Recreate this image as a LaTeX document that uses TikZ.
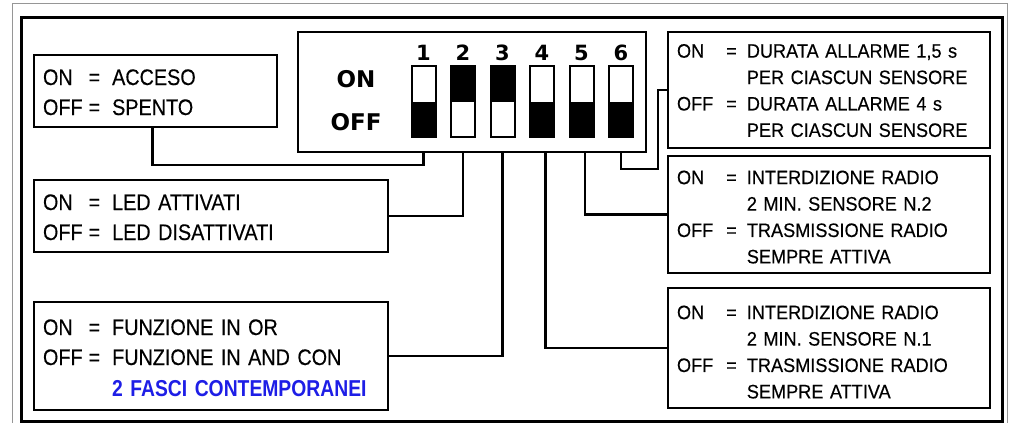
\documentclass[tikz,border=0pt]{standalone}
\usepackage{fontspec}
\usepackage{array}
\setmainfont{Liberation Sans}
\newfontfamily\leftfont{Liberation Sans}[FakeStretch=0.88,FakeBold=0.3]
\newfontfamily\rightfont{Liberation Sans}[FakeStretch=0.93,FakeBold=0.3]
\newfontfamily\dipfont{DejaVu Sans}
\newfontfamily\fascifont{Liberation Sans}[FakeStretch=0.84]
\usetikzlibrary{positioning,calc}
\definecolor{fasciblue}{RGB}{30,30,230}
\definecolor{framegray}{RGB}{150,150,150}
\newcolumntype{L}{@{}l@{\hspace{6pt}}c@{\hspace{12pt}}l@{}}
\newcolumntype{R}{@{}l@{\hspace{13pt}}c@{\hspace{10pt}}l@{}}
\newcommand{\lowered}[2]{\noindent\raisebox{-#1}[\height][\depth]{#2}}

\begin{document}
\begin{tikzpicture}[x=1pt,y=-1pt,
  infobox/.style={draw,line width=2.5pt,outer sep=0pt,anchor=north west,inner xsep=9pt,inner ysep=0pt,align=left},
  leftbox/.style={infobox,font=\leftfont\fontsize{22.5}{30}\selectfont},
  rightbox/.style={infobox,font=\rightfont\fontsize{19.5}{26.4}\selectfont,text width=304},
  switchbox/.style={draw,line width=2pt,minimum width=24,minimum height=71,inner sep=0pt,outer sep=0pt},
  diplbl/.style={font=\dipfont\bfseries\fontsize{23}{23}\selectfont,anchor=base,inner sep=0pt},
  digitlbl/.style={font=\dipfont\bfseries\fontsize{21}{21}\selectfont,anchor=base,inner sep=0pt},
  wire/.style={line width=2.2pt}]
\useasboundingbox (0,0) rectangle (1015,423);
% frames
\draw[framegray,line width=1pt] (12,423) |- (1007,3) -- (1007,423);
\draw[line width=3pt] (21,17) rectangle (1002,421);

% left boxes
\node[leftbox,text width=225,minimum height=72] (acceso) at (34,55) {\lowered{3pt}{\begin{tabular}{L}
ON & = & ACCESO\\
OFF & = & SPENTO
\end{tabular}}};
\node[leftbox,text width=336,minimum height=72] (led) at (34,180) {\lowered{3pt}{\begin{tabular}{L}
ON & = & LED ATTIVATI\\
OFF & = & LED DISATTIVATI
\end{tabular}}};
\node[leftbox,text width=336,minimum height=108] (funz) at (34,302) {\lowered{3.5pt}{\begin{tabular}{L}
ON & = & FUNZIONE IN OR\\
OFF & = & FUNZIONE IN AND CON\\[1pt]
 & & {\fascifont\bfseries\fontsize{23}{30}\selectfont\color{fasciblue}2 FASCI CONTEMPORANEI}
\end{tabular}}};

% dip switch
\node[draw,line width=2.5pt,outer sep=0pt,anchor=north west,minimum width=348,minimum height=120] (dip) at (298,32) {};
\node[diplbl] (onlbl) at (356,87) {ON};
\node[diplbl] (offlbl) at (356,130) {OFF};
\foreach \i/\fa/\fb in {1/west/south east,2/north west/east,3/north west/east,4/west/south east,5/west/south east,6/west/south east}{
  \node[switchbox] (sw\i) at (423.5+39.5*\i-39.5,101.5) {};
  \fill (sw\i.\fa) rectangle (sw\i.\fb);
  \node[digitlbl] (n\i) at ($(sw\i.north)+(0,-6)$) {\i};
}

% right boxes
\node[rightbox,minimum height=116] (durata) at (668,32) {\lowered{2pt}{\begin{tabular}{R}
ON & = & DURATA ALLARME 1,5 s\\
 & & PER CIASCUN SENSORE\\
OFF & = & DURATA ALLARME 4 s\\
 & & PER CIASCUN SENSORE
\end{tabular}}};
\node[rightbox,minimum height=117] (radio2) at (668,156) {\lowered{4pt}{\begin{tabular}{R}
ON & = & INTERDIZIONE RADIO\\
 & & 2 MIN. SENSORE N.2\\
OFF & = & TRASMISSIONE RADIO\\
 & & SEMPRE ATTIVA
\end{tabular}}};
\node[rightbox,minimum height=120] (radio1) at (668,288) {\lowered{5.5pt}{\begin{tabular}{R}
ON & = & INTERDIZIONE RADIO\\
 & & 2 MIN. SENSORE N.1\\
OFF & = & TRASMISSIONE RADIO\\
 & & SEMPRE ATTIVA
\end{tabular}}};

% connectors
\draw[wire] (dip.south -| sw1) -- ++(0,13) -| ($(acceso.south)+(-3,0)$);
\draw[wire] (dip.south -| sw2) |- (led.east);
\draw[wire] (dip.south -| sw3) |- (funz.east);
\draw[wire] ($(dip.south -| sw4)+(3.5,0)$) |- (radio1.west);
\draw[wire] ($(dip.south -| sw5)+(3.5,0)$) |- (radio2.west);
\draw[wire] (dip.south -| sw6) -- ++(0,17) -| ($(durata.west)+(-10,0)$) -- (durata.west);
\end{tikzpicture}
\end{document}
